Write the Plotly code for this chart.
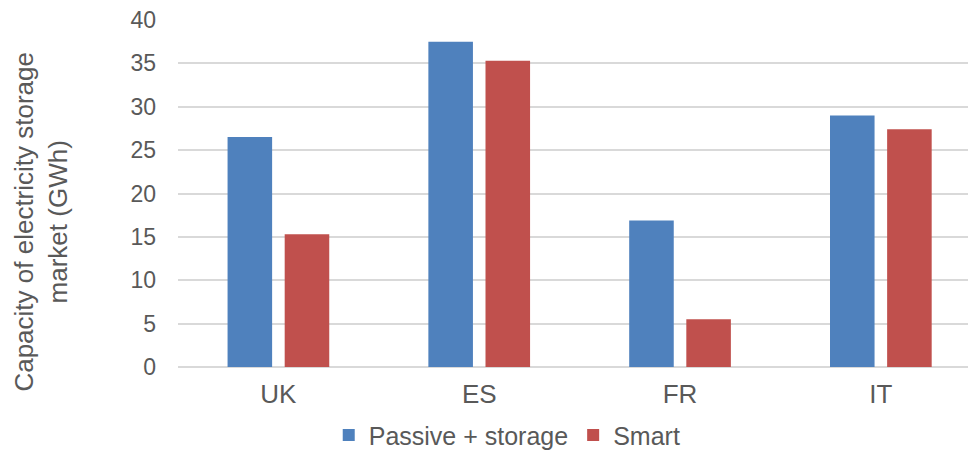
import plotly.graph_objects as go

countries = ["UK", "ES", "FR", "IT"]
passive_storage = [26.5, 37.5, 16.9, 29.0]
smart = [15.3, 35.3, 5.5, 27.4]
y_ticks = [0, 5, 10, 15, 20, 25, 30, 35, 40]

TEXT = "#595959"
FONT = "Liberation Sans, Arial, sans-serif"

fig = go.Figure()
fig.add_trace(go.Bar(name="Passive + storage", x=countries, y=passive_storage,
                     marker=dict(color="#4F81BD", line=dict(width=0))))
fig.add_trace(go.Bar(name="Smart", x=countries, y=smart,
                     marker=dict(color="#C0504D", line=dict(width=0))))

fig.update_layout(
    width=968, height=452,
    margin=dict(l=178, r=0, t=20, b=85),
    paper_bgcolor="white", plot_bgcolor="white",
    barmode="group", bargap=0.431, bargroupgap=0.22,
    font=dict(family=FONT, color=TEXT, size=26),
    showlegend=True,
    legend=dict(orientation="h", xref="container", yref="container",
                x=0.524, y=0.037, xanchor="center", yanchor="middle",
                bgcolor="rgba(0,0,0,0)",
                font=dict(size=25, color=TEXT), itemsizing="constant"),
)
fig.update_xaxes(
    type="category", range=[-0.5, 3.434],
    showgrid=False, showline=False, ticks="",
    tickfont=dict(size=26, color=TEXT), ticklabelstandoff=9,
)
fig.update_yaxes(
    range=[0, 40], tickvals=y_ticks,
    showgrid=True, gridcolor="#d9d9d9", gridwidth=1.5,
    zeroline=True, zerolinecolor="#d9d9d9", zerolinewidth=1.5,
    showline=False, ticks="",
    tickfont=dict(size=23, color=TEXT), ticklabelstandoff=21,
)
fig.add_annotation(
    text="Capacity of electricity storage<br>market (GWh)",
    xref="paper", yref="paper", x=-0.173, y=0.42,
    xanchor="center", yanchor="middle", textangle=-90,
    showarrow=False, font=dict(size=26, color=TEXT),
)

fig.write_html("out.html")
